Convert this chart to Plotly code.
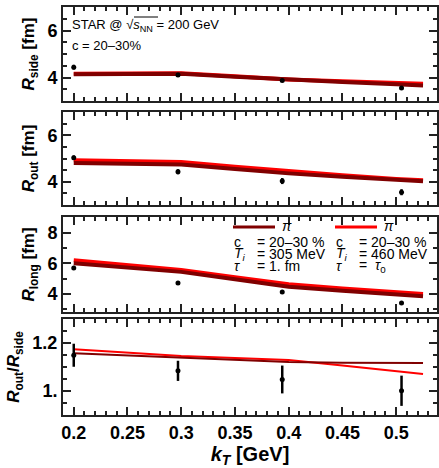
import plotly.graph_objects as go

# ---------------- data ----------------
kt_data = [0.2, 0.297, 0.394, 0.505]
rside = [4.44, 4.11, 3.87, 3.55]
rside_err = [0.10, 0.05, 0.06, 0.06]
rout = [5.03, 4.43, 4.03, 3.55]
rout_err = [0.10, 0.11, 0.13, 0.13]
rlong = [5.69, 4.70, 4.11, 3.39]
rlong_err = [0.06, 0.05, 0.05, 0.05]
ratio = [1.149, 1.084, 1.048, 1.001]
ratio_err = [0.048, 0.042, 0.058, 0.063]

kt_model = [0.2, 0.25, 0.3, 0.35, 0.4, 0.45, 0.5, 0.525]
# model 1: pi, Ti = 305 MeV, tau = 1 fm (dark red)
side_m1 = [4.14, 4.15, 4.16, 4.03, 3.90, 3.81, 3.71, 3.66]
out_m1 = [4.81, 4.78, 4.74, 4.55, 4.36, 4.22, 4.08, 4.02]
long_m1 = [6.01, 5.72, 5.44, 4.95, 4.46, 4.20, 3.95, 3.84]
ratio_m1 = [1.157, 1.148, 1.139, 1.130, 1.121, 1.118, 1.117, 1.117]
# model 2: pi, Ti = 460 MeV, tau = tau0 (red)
side_m2 = [4.16, 4.17, 4.18, 4.05, 3.92, 3.84, 3.76, 3.73]
out_m2 = [4.93, 4.89, 4.85, 4.65, 4.45, 4.28, 4.12, 4.06]
long_m2 = [6.21, 5.88, 5.56, 5.09, 4.62, 4.35, 4.08, 3.98]
ratio_m2 = [1.174, 1.160, 1.146, 1.138, 1.129, 1.106, 1.082, 1.071]

x_ticks = [0.2, 0.25, 0.3, 0.35, 0.4, 0.45, 0.5]
x_ticktext = ["0.2", "0.25", "0.3", "0.35", "0.4", "0.45", "0.5"]

DARK = "#800000"
RED = "#ff0000"
AX = "#222222"
FONT = "Liberation Sans, Arial, Helvetica, sans-serif"

fig = go.Figure()

panels = [
    (rside, rside_err, side_m1, side_m2, "x", "y", 4),
    (rout, rout_err, out_m1, out_m2, "x2", "y2", 4),
    (rlong, rlong_err, long_m1, long_m2, "x3", "y3", 4),
    (ratio, ratio_err, ratio_m1, ratio_m2, "x4", "y4", 2),
]
for d, e, m1, m2, xa, ya, lw in panels:
    fig.add_trace(go.Scatter(x=kt_model, y=m2, mode="lines",
                             line=dict(color=RED, width=lw),
                             xaxis=xa, yaxis=ya, showlegend=False))
    fig.add_trace(go.Scatter(x=kt_model, y=m1, mode="lines",
                             line=dict(color=DARK, width=lw),
                             xaxis=xa, yaxis=ya, showlegend=False))
    fig.add_trace(go.Scatter(x=kt_data, y=d, mode="markers",
                             marker=dict(color="black", size=5),
                             error_y=dict(type="data", array=e, color="black",
                                          thickness=2.5, width=0),
                             xaxis=xa, yaxis=ya, showlegend=False))

L, R, T, B = 63, 2, 7, 53
W, H = 439, 468
pw, ph = W - L - R, H - T - B


def px(x):
    return (x - L) / pw


def py(y):
    return (H - B - y) / ph


def xaxis_common(show_labels, anchor):
    d = dict(range=[0.19, 0.538], showline=True, linewidth=2, linecolor=AX,
             mirror="ticks", ticks="inside", ticklen=8, tickwidth=1.5,
             tickcolor=AX, tickmode="array", tickvals=x_ticks,
             ticktext=x_ticktext, showticklabels=show_labels,
             showgrid=False, zeroline=False, anchor=anchor,
             tickfont=dict(family=FONT, size=18, color="black", weight="bold"),
             minor=dict(tickmode="linear", tick0=0, dtick=0.01, ticks="inside",
                        ticklen=4, tickwidth=1.5, tickcolor=AX, showgrid=False))
    return d


def yaxis_common(rng, tv, tt, minor_dt, dom, title, anchor):
    return dict(range=rng, domain=dom, showline=True, linewidth=2, linecolor=AX,
                mirror="ticks", ticks="inside", ticklen=8, tickwidth=1.5,
                tickcolor=AX, tickmode="array", tickvals=tv, ticktext=tt,
                showgrid=False, zeroline=False, anchor=anchor,
                tickfont=dict(family=FONT, size=18, color="black", weight="bold"),
                title=dict(text=title, standoff=8,
                           font=dict(family=FONT, size=17, color="black")),
                minor=dict(tickmode="linear", tick0=0, dtick=minor_dt,
                           ticks="inside", ticklen=4, tickwidth=1.5,
                           tickcolor=AX, showgrid=False))


dom1 = [py(101), 1.0]
dom2 = [py(205), py(112)]
dom3 = [py(312), py(217)]
dom4 = [0.0, py(319)]

xa1 = xaxis_common(False, "y")
xa2 = xaxis_common(False, "y2"); xa2["matches"] = "x"
xa3 = xaxis_common(False, "y3"); xa3["matches"] = "x"
xa4 = xaxis_common(True, "y4"); xa4["matches"] = "x"
xa4["title"] = dict(text="<b><i>k</i><sub><i>T</i></sub> [GeV]</b>", standoff=15,
                    font=dict(family=FONT, size=20, color="black"))

fig.update_layout(
    width=W, height=H,
    margin=dict(l=L, r=R, t=T, b=B),
    paper_bgcolor="white", plot_bgcolor="white",
    template="none",
    showlegend=False,
    xaxis=xa1, xaxis2=xa2, xaxis3=xa3, xaxis4=xa4,
    yaxis=yaxis_common([3, 7], [4, 6], ["4", "6"], 0.5, dom1,
                       "<b><i>R</i><sub>side</sub> [fm]</b>", "x"),
    yaxis2=yaxis_common([3, 7], [4, 6], ["4", "6"], 0.5, dom2,
                        "<b><i>R</i><sub>out</sub> [fm]</b>", "x2"),
    yaxis3=yaxis_common([2.8, 9.05], [4, 6, 8], ["4", "6", "8"], 1, dom3,
                        "<b><i>R</i><sub>long</sub> [fm]</b>", "x3"),
    yaxis4=yaxis_common([0.9, 1.3], [1.0, 1.2], ["1.", "1.2"], 0.05, dom4,
                        "<b><i>R</i><sub>out</sub>/<i>R</i><sub>side</sub></b>", "x4"),
)

ann = []


def text(x, y, s, size=14):
    ann.append(dict(x=px(x), y=py(y), xref="paper", yref="paper", text=s,
                    showarrow=False, xanchor="left", yanchor="middle",
                    borderpad=0,
                    font=dict(family=FONT, size=size, color="black")))


text(71, 26, "STAR @ √<i>s</i><sub>NN</sub> = 200 GeV", 13)
text(71, 45, "c = 20–30%", 13)

# legend texts
text(281, 226, "<i>π</i>")
text(233, 242, "c")
text(256, 242, "= 20–30 %")
text(233, 254, "<i>T</i><sub><i>i</i></sub>")
text(256, 254, "= 305 MeV")
text(233, 266, "<i>τ</i>")
text(256, 266, "= 1. fm")

text(383, 226, "<i>π</i>")
text(335, 242, "c")
text(358, 242, "= 20–30 %")
text(335, 254, "<i>T</i><sub><i>i</i></sub>")
text(358, 254, "= 460 MeV")
text(335, 266, "<i>τ</i>")
text(358, 266, "=  <i>τ</i><sub>0</sub>")

fig.update_layout(annotations=ann)

shapes = [
    dict(type="line", xref="paper", yref="paper", x0=px(233), x1=px(275),
         y0=py(227), y1=py(227), line=dict(color=DARK, width=3)),
    dict(type="line", xref="paper", yref="paper", x0=px(335), x1=px(377),
         y0=py(227), y1=py(227), line=dict(color=RED, width=3)),
    # radical vinculum
    dict(type="line", xref="paper", yref="paper", x0=px(134), x1=px(158),
         y0=py(17), y1=py(17), line=dict(color="black", width=1)),
]
fig.update_layout(shapes=shapes)

fig.write_html("out.html",
               config={"responsive": False, "displayModeBar": False},
               post_script="document.body.style.margin='0';"
                           "document.body.style.overflow='hidden';")
